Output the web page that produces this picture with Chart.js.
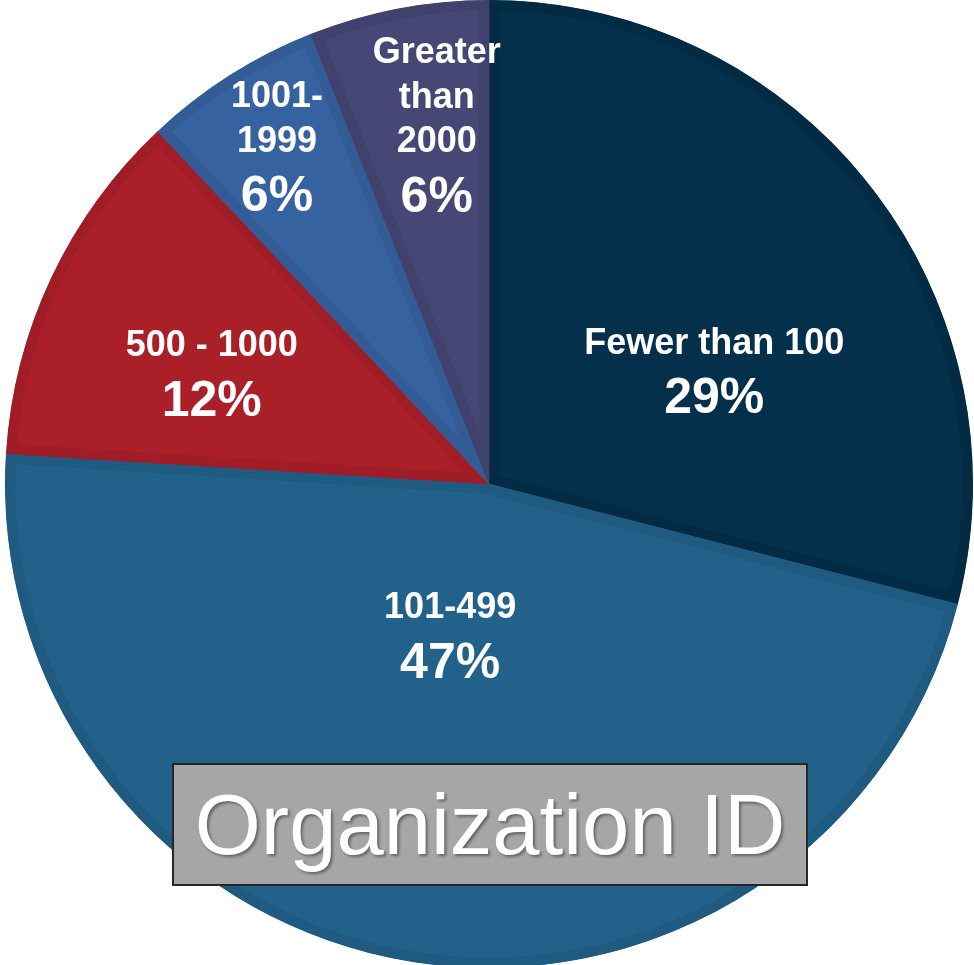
<!DOCTYPE html>
<html>
<head>
<meta charset="utf-8">
<script src="https://cdn.jsdelivr.net/npm/chart.js@4/dist/chart.umd.min.js"></script>
<style>
  html, body { margin: 0; padding: 0; background: #ffffff; overflow: hidden; width: 974px; height: 965px; }
  #wrap { position: absolute; left: 0; top: 0; width: 978px; height: 968px; }
  #title {
    position: absolute; left: 172px; top: 763px; width: 632px; height: 119px;
    background: #a6a6a6; border: 2px solid #262626;
    color: #ffffff; font-family: "Liberation Sans", Arial, sans-serif; font-size: 85px;
    line-height: 119px; text-align: center;
    text-shadow: 2px 2px 3px rgba(0,0,0,0.4);
  }
</style>
</head>
<body>
<div id="wrap"><canvas id="c"></canvas></div>
<div id="title">Organization ID</div>
<script>
const categories = ["Fewer than 100", "101-499", "500 - 1000", "1001-\n1999", "Greater\nthan\n2000"];
const values = [29, 47, 12, 6, 6];
const colors = ["#05304b", "#22628a", "#ab1f29", "#3762a0", "#464775"];
const borderColors = ["#042b44", "#1f5b80", "#a01d27", "#335c96", "#41416d"];

// label placement: radial fraction and angle shift (degrees) per slice
const labelFrac = [0.52, 0.325, 0.616, 0.822, 0.748];
const labelShift = [11.3, 5.3, -3.6, 0.2, 2.5];

const labelPlugin = {
  id: 'sliceLabels',
  afterDatasetsDraw(chart) {
    const ctx = chart.ctx;
    const meta = chart.getDatasetMeta(0);
    ctx.save();
    ctx.fillStyle = '#ffffff';
    ctx.textAlign = 'center';
    ctx.textBaseline = 'middle';
    meta.data.forEach((arc, i) => {
      const p = arc.getProps(['x', 'y', 'startAngle', 'endAngle', 'outerRadius'], true);
      const mid = (p.startAngle + p.endAngle) / 2 + labelShift[i] * Math.PI / 180;
      const r = p.outerRadius * labelFrac[i];
      const cx = p.x + Math.cos(mid) * r;
      const cy = p.y + Math.sin(mid) * r;
      const lines = categories[i].split('\n');
      const lineH = 44.5, pctGap = 56;
      const totalH = (lines.length - 1) * lineH + pctGap;
      let y0 = cy - totalH / 2;
      ctx.font = 'bold 36px "Liberation Sans", Arial, sans-serif';
      lines.forEach((ln, k) => ctx.fillText(ln, cx, y0 + k * lineH));
      ctx.font = 'bold 50px "Liberation Sans", Arial, sans-serif';
      ctx.fillText(values[i] + '%', cx, y0 + (lines.length - 1) * lineH + pctGap);
    });
    ctx.restore();
  }
};

new Chart(document.getElementById('c'), {
  type: 'pie',
  data: {
    labels: categories.map(s => s.replace(/\n/g, ' ')),
    datasets: [{
      data: values,
      backgroundColor: colors,
      borderColor: borderColors,
      borderWidth: 10,
      borderAlign: 'inner'
    }]
  },
  options: {
    responsive: true,
    maintainAspectRatio: false,
    animation: false,
    layout: { padding: 0 },
    plugins: { legend: { display: false }, tooltip: { enabled: false }, title: { display: false } }
  },
  plugins: [labelPlugin]
});
</script>
</body>
</html>
